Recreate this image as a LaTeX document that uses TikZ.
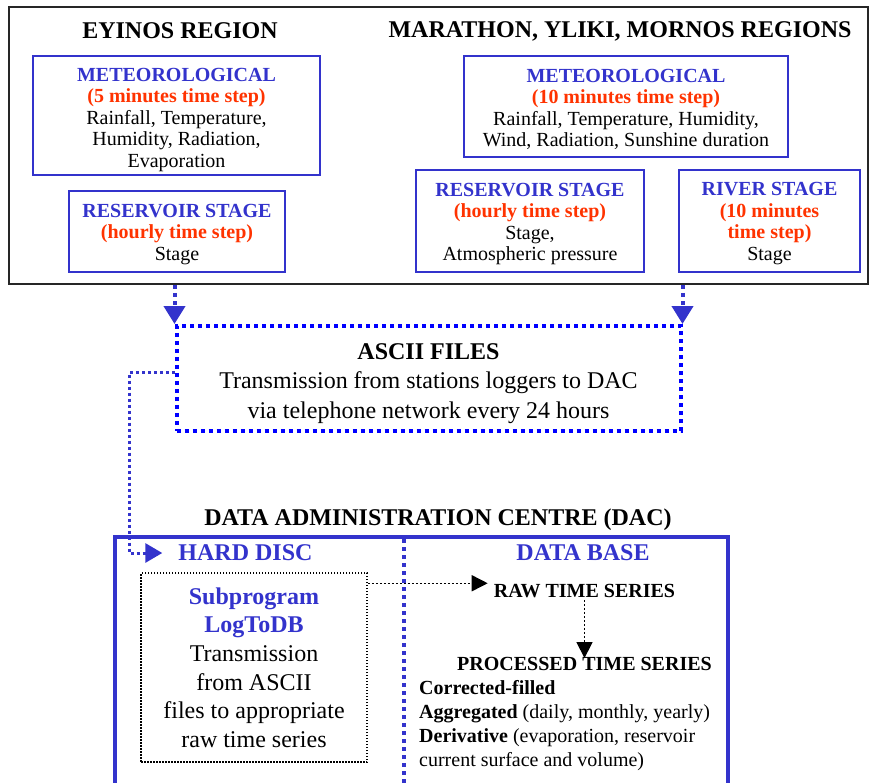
\documentclass[tikz,border=0pt]{standalone}
\usepackage{fontspec}
\setmainfont{Liberation Serif}
\usetikzlibrary{arrows.meta,calc}
\definecolor{dblue}{RGB}{51,51,204}
\definecolor{pblue}{RGB}{0,0,255}
\definecolor{ored}{RGB}{255,51,0}
\newcommand{\hb}[1]{{\bfseries\color{dblue}#1}}
\newcommand{\hr}[1]{{\bfseries\color{ored}#1}}
\begin{document}
\begin{tikzpicture}[x=1pt,y=-1pt,
  txt/.style={inner sep=0pt,align=center},
  fA/.style={font=\fontsize{20}{21.5}\selectfont},
  fB/.style={font=\fontsize{24}{28.6}\selectfont},
  ttl/.style={txt,font=\fontsize{24}{28}\selectfont\bfseries},
  stbox/.style={draw=dblue,line width=1.5pt,inner sep=0pt},
  outerbox/.style={draw=black!85,line width=2pt,inner sep=0pt},
  asciibox/.style={draw=pblue,line width=4pt,dash pattern=on 4pt off 4pt,inner sep=0pt},
  bigarrow/.style={draw=dblue,line width=4pt,dash pattern=on 4pt off 4pt,-{Triangle[width=21pt,length=18pt]},dblue},
  thinarrow/.style={draw=dblue,line width=3pt,dash pattern=on 3pt off 3pt,-{Triangle[width=19pt,length=17pt]},dblue},
  blkarrow/.style={draw=black,line width=1.5pt,dash pattern=on 2pt off 2pt,-{Triangle[width=16pt,length=16pt]}},
  subbox/.style={draw=black,line width=1.5pt,dash pattern=on 1.5pt off 1.5pt,inner sep=0pt,align=center,fB}
]
\useasboundingbox (0,0) rectangle (869,783);

% top region box
\node[outerbox,minimum width=859pt,minimum height=277pt] (outer) at (438.5,145.5) {};
\node[ttl] (t1) at (180,31) {EYINOS REGION};
\node[ttl] (t2) at (620,31) {MARATHON, YLIKI, MORNOS REGIONS};

\node[stbox,minimum width=287pt,minimum height=119pt] (m1) at (176.5,115.5) {};
\node[txt,fA] (m1t) at ([yshift=-4.5pt]m1.center)
  {\hb{METEOROLOGICAL}\\ \hr{(5 minutes time step)}\\ Rainfall, Temperature,\\ Humidity, Radiation,\\ Evaporation};
\node[stbox,minimum width=216pt,minimum height=81pt] (r1) at (177,231.5) {};
\node[txt,fA] (r1t) at ([yshift=-3pt]r1.center)
  {\hb{RESERVOIR STAGE}\\ \hr{(hourly time step)}\\ Stage};
\node[stbox,minimum width=324pt,minimum height=101pt] (m2) at (626,106.5) {};
\node[txt,fA] (m2t) at ([yshift=-3pt]m2.center)
  {\hb{METEOROLOGICAL}\\ \hr{(10 minutes time step)}\\ Rainfall, Temperature, Humidity,\\ Wind, Radiation, Sunshine duration};
\node[stbox,minimum width=228pt,minimum height=102pt] (r2) at (530,221) {};
\node[txt,fA] (r2t) at ([yshift=-3pt]r2.center)
  {\hb{RESERVOIR STAGE}\\ \hr{(hourly time step)}\\ Stage,\\ Atmospheric pressure};
\node[stbox,minimum width=181pt,minimum height=102pt] (rv) at (769.5,221) {};
\node[txt,fA] (rvt) at ([yshift=-2.5pt]rv.center)
  {\hb{RIVER STAGE}\\ \hr{(10 minutes}\\ \hr{time step)}\\ Stage};

% ASCII files
\node[asciibox,minimum width=504pt,minimum height=105pt] (ascii) at (428.5,378.5) {};
\node[txt,font=\fontsize{24}{29.5}\selectfont] (asciit) at ([yshift=-5pt]ascii.center)
  {\textbf{ASCII FILES}\\ Transmission from stations loggers to DAC\\ via telephone network every 24 hours};
\draw[bigarrow] (outer.south -| ascii.north west) -- (ascii.north west);
\draw[bigarrow] (outer.south -| ascii.north east) -- (ascii.north east);

% DAC
\node[ttl] (dac) at (438,520) {DATA ADMINISTRATION CENTRE (DAC)};
\draw[draw=dblue,line width=4pt] (115,786) -- (115,537) -- (728,537) -- (728,786);
\draw[draw=dblue,line width=4pt,dash pattern=on 4pt off 4pt] (404,539) -- (404,786);
\node[ttl,text=dblue] (hd) at (245.5,553) {HARD DISC};
\node[ttl,text=dblue] (db) at (583,553) {DATA BASE};

\coordinate (bend) at (129,372);
\draw[thinarrow,shorten >=16pt] (ascii.west |- bend) -- (bend) |- (hd.west);

\node[subbox,minimum width=226pt,minimum height=189pt] (sub) at (254,667.5)
  {\hb{Subprogram}\\ \hb{LogToDB}\\ Transmission\\ from ASCII\\ files to appropriate\\ raw time series};

\node[txt,font=\fontsize{20}{24}\selectfont\bfseries] (raw) at (584.5,591) {RAW TIME SERIES};
\node[txt,font=\fontsize{20}{24}\selectfont\bfseries] (proc) at (584.5,664) {PROCESSED TIME SERIES};
\node[txt,align=left,anchor=west,font=\fontsize{20}{24}\selectfont] (list) at (419,726)
  {\textbf{Corrected-filled}\\ \textbf{Aggregated} (daily, monthly, yearly)\\ \textbf{Derivative} (evaporation, reservoir\\ current surface and volume)};

\draw[blkarrow,shorten >=6pt] ([yshift=-11pt]sub.north east) -- ([yshift=-11pt]sub.north east -| raw.west);
\draw[blkarrow] ([yshift=-2pt]raw.south) -- ([yshift=-1pt]proc.north);
\end{tikzpicture}
\end{document}
